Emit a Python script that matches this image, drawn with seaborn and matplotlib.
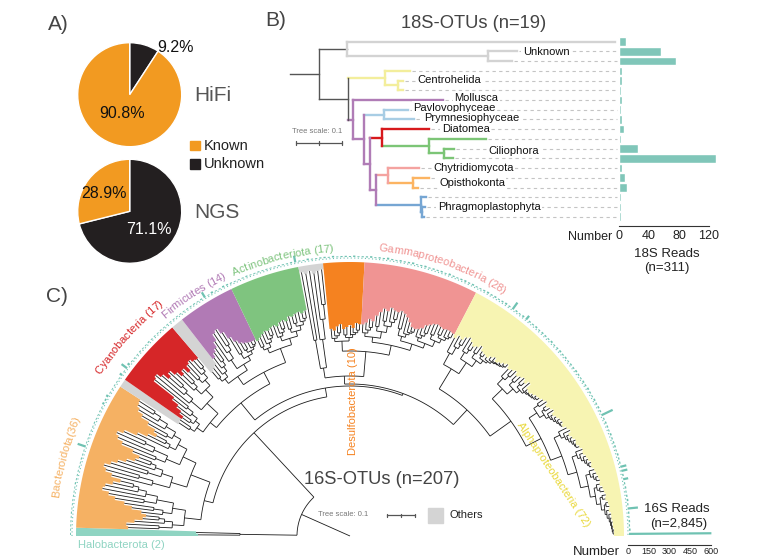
import numpy as np
import pandas as pd
import matplotlib
matplotlib.use("Agg")
import matplotlib.pyplot as plt
import seaborn as sns
from matplotlib.collections import LineCollection
from matplotlib.patches import Rectangle
from matplotlib.font_manager import FontProperties, findfont, get_font

W, H = 758, 560
FONT = ["Liberation Sans", "DejaVu Sans"]

# ---------------- A) known / unknown share ----------------
pie_order = ["Unknown", "Known"]
pie_colors = ["#231f20", "#f29a21"]
hifi_share = [9.2, 90.8]
ngs_share = [71.1, 28.9]

# ---------------- B) 18S tree (branch lengths, subst./site) ----------------
# (name, length, colour, children[, stem colour]) ; leaves: (row, length)
tree18 = ("n", 0.064, "#555555", [
    ("n", 0.060, "#d3d3d3", [
        (0, 0.587),
        ("n", 0.310, None, [(1, 0.062), (2, 0.051)]),
    ], "#555555"),
    ("n", 0.062, "#555555", [
        ("n", 0.082, "#f3ee9c", [
            (3, 0.055),
            ("n", 0.029, None, [(4, 0.011), (5, 0.011)]),
        ]),
        ("n", 0.012, "#b07cb6", [
            (6, 0.197),
            ("n", 0.024, None, [
                ("n", 0.044, "#a8cde4", [(7, 0.053), (8, 0.065)]),
                ("n", 0.012, None, [
                    ("n", 0.027, "#d7191c", [
                        (9, 0.103),
                        ("n", 0.104, "#7cc576", [
                            (10, 0.123),
                            ("n", 0.031, None, [(11, 0.023), (12, 0.020)]),
                        ]),
                    ]),
                    ("n", 0.015, None, [
                        ("n", 0.025, "#f4a3a0", [
                            (13, 0.068),
                            ("n", 0.056, "#fcb462", [(14, 0.035), (15, 0.009)]),
                        ]),
                        ("n", 0.098, "#76a6d3", [
                            (16, 0.011),
                            ("n", 0.002, None, [(17, 0.007), (18, 0.005)]),
                        ]),
                    ]),
                ]),
            ]),
        ]),
    ]),
])
reads18 = [9, 56, 76, 4, 4, 3, 4, 3, 4, 6, 3, 25, 129, 4, 8, 10, 3, 3, 3]
taxa18 = ["Unknown", "Centrohelida", "Mollusca", "Pavlovophyceae", "Prymnesiophyceae",
          "Diatomea", "Ciliophora", "Chytridiomycota", "Opisthokonta", "Phragmoplastophyta"]

# ---------------- C) 16S tree ----------------
clade_names = ["Halobacterota (2)", "Bacteroidota(36)", "Others", "Cyanobacteria (17)", "Others",
               "Firmicutes (14)", "Actinobacteriota (17)", "Others", "Desulfobacterota (10)",
               "Gammaproteobacteria (28)", "Alphaproteobacteria (72)"]
clade_colors = ["#8fd4c2", "#f5b163", "#d4d4d4", "#d62628", "#d4d4d4", "#b17ab5", "#7fc47f",
                "#d4d4d4", "#f58220", "#f09493", "#f7f4b2"]
halo_tips = [152, 154]
bact_tips = [222, 224, 216, 208, 205, 210, 220, 228, 238, 245, 252, 250, 243, 236, 246, 253, 256, 250,
             244, 236, 228, 225, 233, 246, 252, 255, 249, 236, 226, 218, 222, 231, 240, 246, 249, 250]
oth1_tips = [205, 206]
cyano_tips = [205, 210, 216, 224, 250, 252, 247, 240, 244, 238, 232, 236, 230, 236, 238, 235, 234]
oth2_tips = [214, 216, 218]
firm_tips = [224, 228, 231, 237, 244, 246, 240, 232, 226, 222, 220, 219, 218, 218]
actino_tips = [216, 218, 220, 222, 221, 223, 224, 222, 225, 226, 224, 228, 227, 229, 230, 228, 230]
oth3_tips = [268, 266, 268, 265, 267, 268]
desulfo_tips = [208, 206, 210, 212, 207, 209, 211, 208, 213, 212]
gamma_tips = [212, 214, 218, 216, 222, 226, 230, 228, 232, 230, 229, 231, 229, 226, 222, 218, 217, 218,
              220, 224, 226, 228, 229, 228, 227, 228, 228, 227]
alpha_tips = [224, 228, 226, 230, 232, 229, 226, 228, 231, 227, 226, 225, 228, 230, 227, 229, 231, 233,
              230, 232, 234, 231, 233, 235, 232, 236, 230, 229, 231, 233, 234, 236, 238, 235, 237, 239,
              236, 238, 240, 241, 239, 242, 244, 241, 243, 245, 244, 246, 248, 247, 249, 250, 252, 251,
              253, 254, 255, 256, 255, 257, 258, 259, 258, 260, 261, 260, 262, 262, 263, 263, 264, 264]

halo_reads = [4, 3]
bact_reads = [6, 5, 4, 8, 5, 6, 7, 5, 6, 4, 9, 5, 6, 7, 5, 6, 8, 5, 6, 62, 6, 5, 7, 6, 5, 8, 6, 5, 7, 6,
              15, 12, 18, 6, 5, 7]
oth1_reads = [5, 6]
cyano_reads = [20, 6, 50, 18, 7, 5, 6, 8, 5, 6, 9, 5, 7, 6, 8, 5, 6]
oth2_reads = [6, 5, 7]
firm_reads = [6, 5, 7, 6, 8, 5, 9, 45, 6, 14, 7, 5, 12, 10]
actino_reads = [8, 6, 5, 7, 9, 6, 5, 8, 6, 7, 5, 6, 8, 7, 6, 9, 50]
oth3_reads = [8, 6, 12, 7, 5, 9]
desulfo_reads = [10, 7, 12, 6, 8, 9, 7, 11, 6, 8]
gamma_reads = [9, 12, 7, 10, 8, 14, 9, 7, 11, 8, 10, 13, 7, 9, 12, 8, 10, 9, 11, 7, 13, 9, 8, 10, 12,
               9, 11, 8]
alpha_reads = [8, 10, 12, 9, 11, 8, 10, 13, 9, 60, 11, 8, 12, 35, 10, 9, 12, 8, 11, 10, 9, 13, 8, 10,
               12, 9, 11, 8, 10, 9, 12, 10, 8, 11, 9, 13, 10, 8, 12, 9, 11, 10, 90, 9, 11, 10, 8, 12,
               9, 10, 11, 8, 12, 10, 9, 45, 45, 10, 37, 9, 11, 8, 10, 12, 9, 75, 10, 8, 11, 9, 12, 600]

tips_by_clade = [halo_tips, bact_tips, oth1_tips, cyano_tips, oth2_tips, firm_tips, actino_tips,
                 oth3_tips, desulfo_tips, gamma_tips, alpha_tips]
reads_by_clade = [halo_reads, bact_reads, oth1_reads, cyano_reads, oth2_reads, firm_reads,
                  actino_reads, oth3_reads, desulfo_reads, gamma_reads, alpha_reads]

# backbone: ("g", node radius, children) / ("c", clade indices, clade root radius)
backbone16 = ("g", 53, [
    ("c", [0], 110),
    ("g", 141, [
        ("c", [1], 150),
        ("g", 150, [
            ("g", 172, [
                ("c", [2, 3], 180),
                ("g", 185, [("c", [4, 5], 195), ("c", [6], 200)]),
            ]),
            ("g", 152, [
                ("g", 160, [("c", [7], 170), ("g", 185, [("c", [8], 195), ("c", [9], 195)])]),
                ("c", [10], 172),
            ]),
        ]),
    ]),
])

# ---------------- figure ----------------
sns.set_theme(style="white")
plt.rcParams["font.family"] = FONT

fig = plt.figure(figsize=(W / 100, H / 100), dpi=100)
ax = fig.add_axes([0, 0, 1, 1])
ax.set_xlim(0, W)
ax.set_ylim(H, 0)
ax.axis("off")
ax.set_zorder(5)


def px_axes(x0, y0, w, h):
    return fig.add_axes([x0 / W, 1 - (y0 + h) / H, w / W, h / H])


# ---- A) pies
for share, (x0, y0), name in [(hifi_share, (77.7, 42.7), "HiFi"), (ngs_share, (77.7, 159.3), "NGS")]:
    pa = px_axes(x0, y0, 104, 104)
    pa.pie(share, colors=pie_colors, startangle=90, counterclock=False,
           wedgeprops=dict(edgecolor="white", linewidth=1))
    pa.set_xlim(-1, 1)
    pa.set_ylim(-1, 1)
    pa.axis("off")
    ax.text(194, y0 + 53, name, fontsize=15, color="#555555", ha="left", va="center")

ax.text(175.3, 47.5, f"{hifi_share[0]}%", fontsize=11.5, ha="center", va="center", color="#111111")
ax.text(121.7, 113.3, f"{hifi_share[1]}%", fontsize=11.5, ha="center", va="center", color="#111111")
ax.text(149.2, 230, f"{ngs_share[0]}%", fontsize=11.5, ha="center", va="center", color="white")
ax.text(104.2, 193.3, f"{ngs_share[1]}%", fontsize=11.5, ha="center", va="center", color="#111111")
for k, (lab, col) in enumerate(zip(pie_order[::-1], pie_colors[::-1])):
    ax.add_patch(Rectangle((190, 140.7 + k * 18.6), 10, 9.5, color=col))
    ax.text(204, 145.5 + k * 18.6, lab, fontsize=10.5, va="center", ha="left", color="#222222")
ax.text(58, 24, "A)", fontsize=15, ha="center", va="center", color="#444444")

# ---- B) 18S tree
row_y0, row_dy = 41.7, 9.72
x_root, scale18 = 290.0, 457.0
tree_segs = []
tips18 = {}


def draw18(node, x0, col):
    if isinstance(node[0], int):
        row, length = node
        x1 = x0 + length * scale18
        y = row_y0 + row * row_dy
        tree_segs.append(([(x0, y), (x1, y)], col, 1.7))
        tips18[row] = x1
        return y
    _, length, c, kids = node[:4]
    c = c or col
    stem = node[4] if len(node) > 4 else c
    x1 = x0 + length * scale18
    ys = [draw18(k, x1, c) for k in kids]
    y = (ys[0] + ys[-1]) / 2
    lw = 1.0 if c == "#555555" else 1.7
    tree_segs.append(([(x0, y), (x1, y)], stem, 1.0 if stem == "#555555" else lw))
    tree_segs.append(([(x1, ys[0]), (x1, ys[-1])], c, lw))
    return y


draw18(tree18, x_root, "#555555")
for pts, c, lw in tree_segs:
    ax.add_collection(LineCollection([pts], colors=c, linewidths=lw, capstyle="projecting", zorder=3))

for row, xt in tips18.items():
    if xt < 600:
        y = row_y0 + row * row_dy
        ax.plot([xt + 2, 617], [y, y], color="#c4c4c4", lw=0.8, ls=(0, (3, 3)), zorder=1)

label_rows = [1.03, 3.94, 5.8, 6.8, 7.9, 8.98, 11.2, 13.0, 14.57, 16.98]
label_x = [522.7, 417.7, 454.3, 413.3, 424.3, 441.7, 488.3, 433.3, 439.0, 437.7]
for txt, rw, lx in zip(taxa18, label_rows, label_x):
    ax.text(lx, row_y0 + rw * row_dy, txt, fontsize=8, ha="left", va="center", color="#111111", zorder=4,
            bbox=dict(boxstyle="square,pad=0.12", fc="white", ec="none"))

ax.text(292, 131.7, "Tree scale: 0.1", fontsize=5.5, color="#777777", ha="left", va="center")
sb0, sb1 = 296, 296 + 0.1 * scale18
ax.plot([sb0, sb1], [143.3, 143.3], color="#555555", lw=0.9)
for xx in (sb0, (sb0 + sb1) / 2, sb1):
    ax.plot([xx, xx], [141.3, 145.3], color="#555555", lw=0.9)
ax.text(474, 23, "18S-OTUs (n=19)", fontsize=13.2, ha="center", va="center", color="#444444")
ax.text(265, 21, "B)", fontsize=15, ha="left", va="center", color="#444444")

# B) bars
df18 = pd.DataFrame({"otu": [f"L{i}" for i in range(len(reads18))], "reads": reads18})
xmax18 = (716.0 - 619.0) / 0.75
axb = px_axes(619, 36.85, 716 - 619, 225.5 - 36.85)
sns.barplot(data=df18, x="reads", y="otu", orient="h", color="#80c6b9", saturation=1, width=0.88, ax=axb)
axb.set_xlim(0, xmax18)
axb.set_ylim(18.5 + 4.0 / row_dy, -0.5)
axb.set_xticks([0, 40, 80, 120])
axb.set_yticks([])
axb.set_xlabel("")
axb.set_ylabel("")
for s in ("top", "right", "left"):
    axb.spines[s].set_visible(False)
axb.spines["bottom"].set_bounds(0, 120)
axb.spines["bottom"].set_color("#333333")
axb.spines["bottom"].set_linewidth(0.8)
axb.tick_params(axis="x", direction="in", length=3, width=0.8, labelsize=9, pad=3, colors="#222222")
axb.patch.set_alpha(0)
ax.text(612, 237, "Number", fontsize=9, ha="right", va="center", color="#222222")
ax.text(667, 254, "18S Reads", fontsize=9.5, ha="center", va="center", color="#222222")
ax.text(667, 268, "(n=311)", fontsize=9.5, ha="center", va="center", color="#222222")

# ---- C) circular 16S tree
cx, cy = 350.0, 536.0
R_OUT, R_RING, R_BAR = 274.0, 278.0, 279.0
n16 = sum(len(t) for t in tips_by_clade)
step = 180.0 / n16
tips16 = np.concatenate(tips_by_clade).astype(float)
reads16 = np.concatenate(reads_by_clade).astype(float)
theta16 = 180.0 - (np.arange(n16) + 0.5) * step
clade_leaves = []
leaf_clade = []
start = 0
for ci, t in enumerate(tips_by_clade):
    clade_leaves.append(list(range(start, start + len(t))))
    leaf_clade += [ci] * len(t)
    start += len(t)
# subtree drawing shape (split share, step towards tips); Alphaproteobacteria is a ladder hugging its tips
shape = {10: (0.25, 0.45)}


def polar(r, a):
    r = np.asarray(r, float)
    a = np.radians(np.asarray(a, float))
    return np.column_stack([cx + r * np.cos(a), cy - r * np.sin(a)])


# colour ranges from leaf tips to the outer radius
for leaves, col in zip(clade_leaves, clade_colors):
    a_hi = theta16[leaves[0]] + step / 2
    a_lo = theta16[leaves[-1]] - step / 2
    outer = polar(np.full(60, R_OUT), np.linspace(a_hi, a_lo, 60))
    inner = []
    for j in leaves[::-1]:
        inner.append(polar([tips16[j]] * 2, [theta16[j] - step / 2, theta16[j] + step / 2]))
    poly = np.vstack([outer] + inner)
    ax.fill(poly[:, 0], poly[:, 1], color=col, lw=0, zorder=1)


def build(leaves, r):
    if len(leaves) == 1:
        i = leaves[0]
        return dict(r=tips16[i], a=theta16[i], kids=[])
    share, frac = shape.get(leaf_clade[leaves[-1]], (0.4, 0.3))
    k = max(1, int(len(leaves) * share))
    kids = []
    for part in (leaves[:k], leaves[k:]):
        if len(part) == 1:
            kids.append(build(part, None))
        else:
            kids.append(build(part, r + frac * (min(tips16[j] for j in part) - r)))
    return dict(r=r, a=(kids[0]["a"] + kids[-1]["a"]) / 2, kids=kids)


def build_backbone(spec):
    if spec[0] == "c":
        return build([j for c in spec[1] for j in clade_leaves[c]], spec[2])
    kids = [build_backbone(s) for s in spec[2]]
    return dict(r=spec[1], a=(kids[0]["a"] + kids[-1]["a"]) / 2, kids=kids)


segs16 = []


def walk(node):
    if not node["kids"]:
        return
    a1, a2 = node["kids"][0]["a"], node["kids"][-1]["a"]
    n = max(2, int(abs(a2 - a1) * 2) + 2)
    segs16.append(polar(np.full(n, node["r"]), np.linspace(a1, a2, n)))
    for kd in node["kids"]:
        segs16.append(polar([node["r"], kd["r"]], [kd["a"], kd["a"]]))
        walk(kd)


root16 = build_backbone(backbone16)
segs16.append(polar([0, root16["r"]], [root16["a"]] * 2))
walk(root16)
ax.add_collection(LineCollection(segs16, colors="#1a1a1a", linewidths=0.6, zorder=2))

# dotted ring and read bars
ring = polar(np.full(200, R_RING), np.linspace(180, 0, 200))
ax.plot(ring[:, 0], ring[:, 1], color="#6fc2b2", lw=0.8, ls=(0, (1, 2.2)), zorder=2)
axis_x0, axis_x1 = 628.3, 710.7
px_per_read = (axis_x1 - axis_x0) / 600.0
bars16 = [polar([R_BAR, R_BAR + max(v * px_per_read, 0.9)], [a, a]) for v, a in zip(reads16, theta16)]
ax.add_collection(LineCollection(bars16, colors="#6fc2b2", linewidths=1.6, capstyle="butt", zorder=3))

ax16 = px_axes(axis_x0, 544, axis_x1 - axis_x0, 0.5)
ax16.set_xlim(0, 600)
ax16.set_xticks([0, 150, 300, 450, 600])
ax16.set_yticks([])
for s in ("top", "right", "left"):
    ax16.spines[s].set_visible(False)
ax16.spines["bottom"].set_color("#333333")
ax16.spines["bottom"].set_linewidth(0.8)
ax16.tick_params(axis="x", direction="in", length=2.5, width=0.7, labelsize=6.5, pad=2, colors="#222222")
ax16.patch.set_alpha(0)
ax.text(620, 552, "Number", fontsize=9.5, ha="right", va="center", color="#222222")
ax.text(677, 509, "16S Reads", fontsize=9.5, ha="center", va="center", color="#222222")
ax.text(679, 524, f"(n={int(reads16.sum()):,})", fontsize=9.5, ha="center", va="center", color="#222222")


def curved_text(text, theta_c, r_mid, size, color):
    prop = FontProperties(family=FONT, size=size)
    font = get_font(findfont(prop))
    font.set_size(size, 100)
    adv = np.array([font.load_char(ord(ch)).linearHoriAdvance / 65536 for ch in text])
    pos = np.cumsum(adv) - adv / 2 - adv.sum() / 2
    r_base = r_mid - 0.3 * size * 100 / 72
    for ch, s in zip(text, pos):
        th = theta_c - np.degrees(s / r_base)
        x, y = polar([r_base], [th])[0]
        ax.text(x, y, ch, fontsize=size, color=color, rotation=th - 90, rotation_mode="anchor",
                ha="center", va="baseline", zorder=5)


curved_text(clade_names[1], 164.6, 297, 8, clade_colors[1])
curved_text(clade_names[3], 138.0, 300, 8, clade_colors[3])
curved_text(clade_names[5], 123.0, 289, 8, clade_colors[5])
curved_text(clade_names[6], 103.7, 288, 8, clade_colors[6])
curved_text(clade_names[9], 71.0, 290, 8, clade_colors[9])
ax.text(78, 545, clade_names[0], fontsize=8, color=clade_colors[0], ha="left", va="center")
ax.text(352.7, 401, clade_names[8], fontsize=8, color=clade_colors[8], rotation=90, ha="center", va="center")
ax.text(553, 475, clade_names[10], fontsize=8, color="#e9d83a", rotation=-56.3, ha="center", va="center",
        zorder=6)

ax.text(382, 480, f"16S-OTUs (n={n16})", fontsize=13.2, ha="center", va="center", color="#444444")
ax.text(318, 514, "Tree scale: 0.1", fontsize=5.5, color="#777777", ha="left", va="center")
ax.plot([387, 415], [515, 515], color="#555555", lw=0.9)
for xx in (387, 401, 415):
    ax.plot([xx, xx], [513.5, 516.5], color="#555555", lw=0.9)
ax.add_patch(Rectangle((428, 507.5), 15, 15, color="#d4d4d4"))
ax.text(450, 515, "Others", fontsize=8, ha="left", va="center", color="#222222")
ax.text(57, 297, "C)", fontsize=15, ha="center", va="center", color="#444444")

fig.savefig("out.png", dpi=100)
